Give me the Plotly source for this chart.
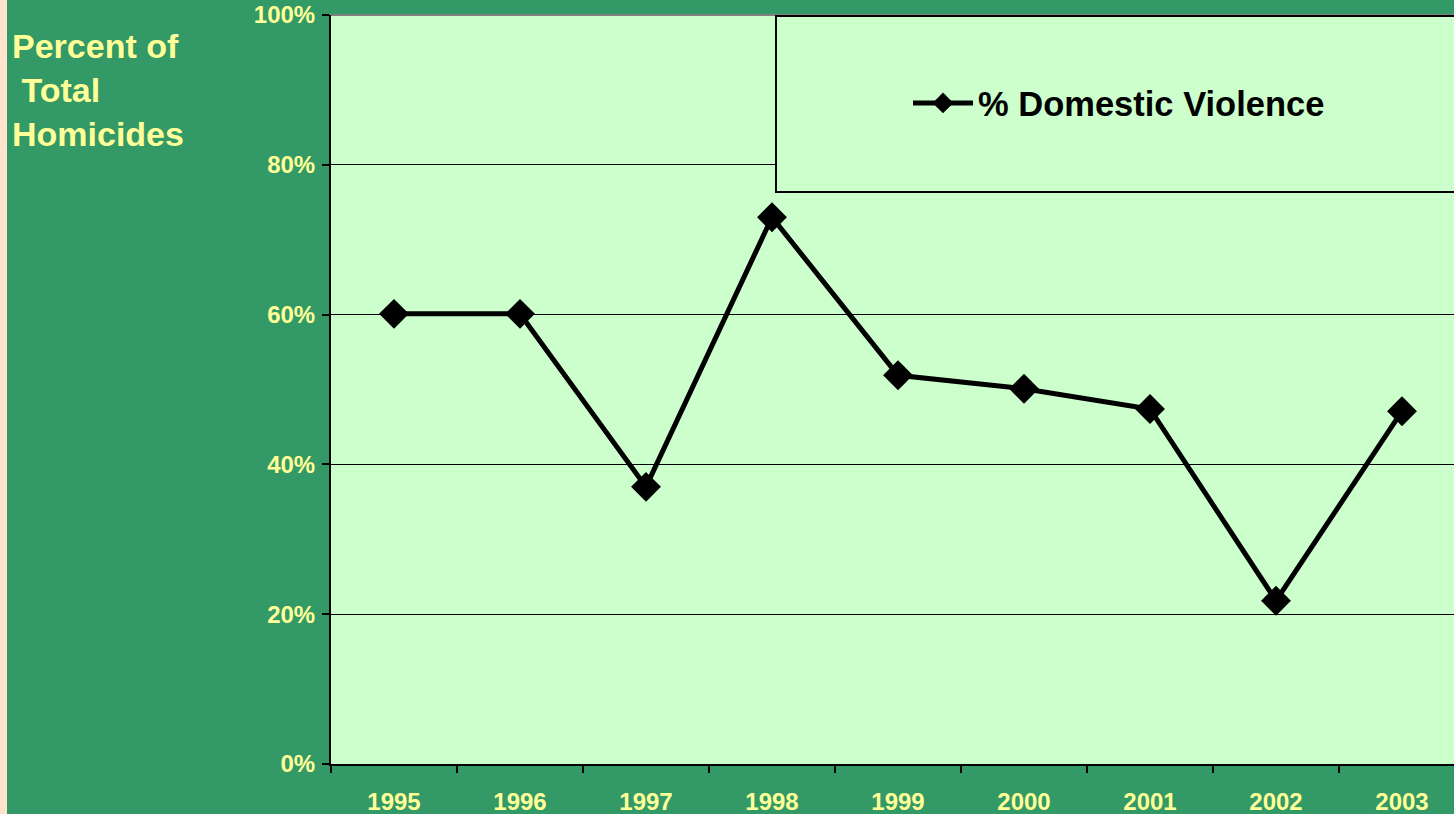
import plotly.graph_objects as go

years = ["1995", "1996", "1997", "1998", "1999", "2000", "2001", "2002", "2003"]
pct_domestic = [60.1, 60.1, 37.0, 73.0, 51.9, 50.1, 47.4, 21.8, 47.1]
series_name = "% Domestic Violence"
y_ticks = [0, 20, 40, 60, 80, 100]
y_tick_labels = ["0%", "20%", "40%", "60%", "80%", "100%"]

W, H = 1454, 814
L, R, T, B = 331, 0, 15, 50
pw = W - L - R
ph = H - T - B

def px_x(x):
    return (x - L) / pw

def px_y(y):
    return (H - B - y) / ph

FONT = "Arial, Liberation Sans, sans-serif"
YELLOW = "#FFFF99"

fig = go.Figure()
fig.add_trace(go.Scatter(
    x=years, y=pct_domestic, name=series_name, mode="lines+markers",
    line=dict(color="black", width=5),
    marker=dict(symbol="diamond", size=23, color="black"),
    showlegend=True,
))

shapes = [
    # left peach strip
    dict(type="rect", xref="paper", yref="paper",
         x0=px_x(0), x1=px_x(7), y0=px_y(H), y1=px_y(0),
         fillcolor="#FFE3CC", line=dict(width=0), layer="below"),
    # top gray border
    dict(type="line", xref="paper", yref="paper",
         x0=0, x1=1, y0=1, y1=1, line=dict(color="#808080", width=2), layer="above"),
    # legend box
    dict(type="rect", xref="paper", yref="paper",
         x0=px_x(776), x1=px_x(1470), y0=px_y(192), y1=px_y(16),
         fillcolor="#CCFFCC", line=dict(color="black", width=2), layer="above"),
]

fig.update_layout(
    width=W, height=H,
    margin=dict(l=L, r=R, t=T, b=B),
    paper_bgcolor="#339966",
    plot_bgcolor="#CCFFCC",
    font=dict(family=FONT),
    shapes=shapes,
    showlegend=True,
    legend=dict(
        x=px_x(908), y=px_y(103), xanchor="left", yanchor="middle",
        bgcolor="rgba(0,0,0,0)", borderwidth=0,
        font=dict(family=FONT, size=34.5, color="black", weight="bold"),
        itemwidth=60,
    ),
    annotations=[dict(
        text="Percent of<br> Total<br>Homicides",
        xref="paper", yref="paper", x=px_x(10), y=px_y(90.5),
        xanchor="left", yanchor="middle", align="left", showarrow=False,
        font=dict(family=FONT, size=34, color=YELLOW, weight="bold"),
    )],
)

fig.update_xaxes(
    type="category", range=[-0.5, (W - L) / 126 - 0.5],
    tickson="boundaries", ticks="outside", ticklen=7, tickwidth=2, tickcolor="black",
    showline=True, linecolor="black", linewidth=2, showgrid=False,
    tickfont=dict(family=FONT, size=24, color=YELLOW, weight="bold"),
    ticklabelstandoff=15,
)
fig.update_yaxes(
    range=[0, 100], tickvals=y_ticks, ticktext=y_tick_labels,
    ticks="outside", ticklen=7, tickwidth=2, tickcolor="black",
    showline=True, linecolor="black", linewidth=2,
    showgrid=True, gridcolor="black", gridwidth=1, zeroline=False,
    tickfont=dict(family=FONT, size=24, color=YELLOW, weight="bold"),
    ticklabelstandoff=2,
)

fig.write_html(
    "out.html",
    config={"displayModeBar": False},
    post_script="document.body.style.margin='0';document.body.style.padding='0';",
)
